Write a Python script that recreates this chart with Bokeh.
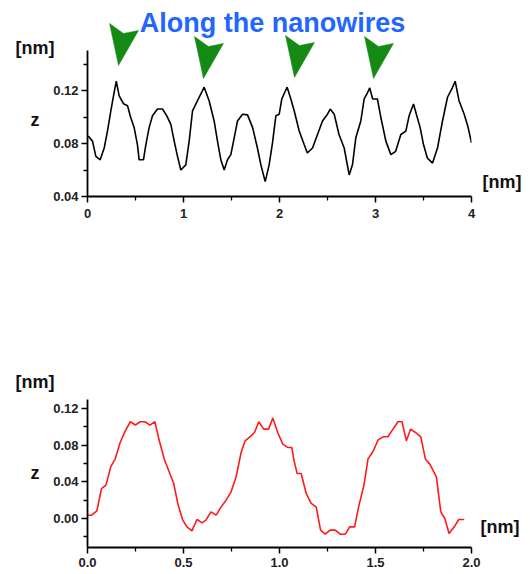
from bokeh.plotting import figure
from bokeh.models import FixedTicker, Label, PrintfTickFormatter, LinearAxis
from bokeh.layouts import column
from bokeh.embed import file_html
from bokeh.resources import INLINE

# ---------------- data ----------------
top_x = [0.007, 0.052, 0.087, 0.132, 0.174, 0.208, 0.243, 0.278, 0.30, 0.33, 0.375, 0.417, 0.45, 0.486,
         0.52, 0.538, 0.583, 0.608, 0.642, 0.677, 0.729, 0.781, 0.826, 0.868, 0.903, 0.9375, 0.972,
         1.024, 1.059, 1.094, 1.146, 1.19, 1.215, 1.267, 1.319, 1.354, 1.389, 1.424, 1.458, 1.493,
         1.528, 1.5625, 1.615, 1.667, 1.72, 1.77, 1.806, 1.851, 1.892, 1.927, 1.962, 1.997, 2.024,
         2.055, 2.08, 2.118, 2.153, 2.205, 2.257, 2.29, 2.344, 2.396, 2.448, 2.5, 2.528, 2.57, 2.62,
         2.674, 2.726, 2.76, 2.795, 2.847, 2.882, 2.915, 2.94, 2.97, 3.02, 3.056, 3.108, 3.16, 3.21,
         3.264, 3.316, 3.35, 3.396, 3.43, 3.465, 3.5, 3.54, 3.594, 3.646, 3.698, 3.75, 3.80, 3.83,
         3.87, 3.924, 3.965, 4.0]
top_z = [0.0856, 0.0818, 0.0703, 0.0677, 0.0766, 0.0894, 0.1047, 0.1187, 0.127, 0.116, 0.110, 0.1085,
         0.0996, 0.092, 0.0792, 0.0677, 0.0677, 0.0792, 0.092, 0.1009, 0.106, 0.106, 0.1009, 0.0945,
         0.0818, 0.0703, 0.060, 0.0639, 0.0818, 0.1047, 0.1123, 0.1187, 0.1225, 0.1123, 0.097, 0.0818,
         0.0677, 0.060, 0.0677, 0.0716, 0.0843, 0.097, 0.1021, 0.1016, 0.092, 0.0766, 0.0639, 0.0512,
         0.0639, 0.0805, 0.1009, 0.1021, 0.1136, 0.1187, 0.1225, 0.1136, 0.1047, 0.0894, 0.0792,
         0.0728, 0.0766, 0.0868, 0.097, 0.1021, 0.106, 0.1021, 0.0868, 0.0766, 0.0563, 0.0639, 0.0843,
         0.097, 0.1136, 0.118, 0.122, 0.1136, 0.1136, 0.0996, 0.0818, 0.0716, 0.0741, 0.0868, 0.0894,
         0.1009, 0.1098, 0.1009, 0.092, 0.0792, 0.069, 0.0652, 0.0766, 0.097, 0.1149, 0.122, 0.127,
         0.1123, 0.1021, 0.092, 0.0805]

bot_x = [0.003, 0.021, 0.049, 0.073, 0.096, 0.122, 0.144, 0.17, 0.197, 0.223, 0.249, 0.275, 0.299,
         0.325, 0.351, 0.374, 0.40, 0.449, 0.47, 0.496, 0.518, 0.544, 0.57, 0.597, 0.617, 0.643, 0.67,
         0.696, 0.722, 0.748, 0.774, 0.80, 0.821, 0.843, 0.87, 0.892, 0.918, 0.943, 0.965, 0.991,
         1.017, 1.043, 1.064, 1.075, 1.092, 1.113, 1.139, 1.165, 1.191, 1.214, 1.238, 1.264, 1.29,
         1.317, 1.343, 1.365, 1.391, 1.414, 1.44, 1.461, 1.487, 1.513, 1.539, 1.565, 1.591, 1.617,
         1.638, 1.661, 1.683, 1.708, 1.736, 1.76, 1.783, 1.817, 1.84, 1.861, 1.883, 1.91, 1.934, 1.962]
bot_z = [0.0036, 0.0036, 0.0084, 0.0327, 0.0364, 0.0568, 0.0647, 0.0829, 0.0956, 0.1055, 0.102,
         0.1055, 0.1055, 0.1018, 0.1055, 0.0847, 0.0647, 0.0382, 0.0164, -0.0018, -0.0091, -0.0135,
         -0.0011, -0.0047, -0.0018, 0.0073, 0.0036, 0.0127, 0.020, 0.0291, 0.0455, 0.072, 0.0847,
         0.0884, 0.0938, 0.1055, 0.0975, 0.0975, 0.1095, 0.0938, 0.0811, 0.0775, 0.0775, 0.0636,
         0.049, 0.049, 0.0273, 0.0164, 0.0127, -0.0127, -0.0171, -0.0127, -0.0127, -0.0171, -0.0171,
         -0.0091, -0.0091, 0.0145, 0.0364, 0.065, 0.0731, 0.0855, 0.0891, 0.0891, 0.0975, 0.1055,
         0.1055, 0.0847, 0.0975, 0.0938, 0.0891, 0.0647, 0.0593, 0.0455, 0.0073, 0.0, -0.0164,
         -0.0091, -0.0011, -0.0011]

top_xticks = [0, 1, 2, 3, 4]
top_yticks = [0.04, 0.08, 0.12]
bot_xticks = [0.0, 0.5, 1.0, 1.5, 2.0]
bot_yticks = [0.00, 0.04, 0.08, 0.12]

arrow_tip_x = [0.323, 1.208, 2.156, 2.979]
arrow_tip_z = [0.1389, 0.1291, 0.1298, 0.1291]

title_text = "Along the nanowires"
unit_text = "[nm]"
z_text = "z\u00a0\u00a0\u00a0"

# label positions (data units of each panel)
top_unit_y, top_z_y, top_xunit_y = 0.1517, 0.0981, 0.0506
bot_unit_y, bot_z_y, bot_xunit_y = 0.1494, 0.0491, -0.0098

FONT = "Liberation Sans"


def style_axes(p, xt, xminor, yt, yminor, xfmt, yfmt):
    p.grid.visible = False
    p.outline_line_color = None
    for ax in (p.xaxis[0], p.yaxis[0]):
        ax.axis_line_width = 1.8
        ax.axis_line_color = "black"
        ax.major_tick_line_width = 1.5
        ax.minor_tick_line_width = 1.3
        ax.major_tick_in = 0
        ax.major_tick_out = 6
        ax.minor_tick_in = 0
        ax.minor_tick_out = 4
        ax.major_label_text_font = FONT
        ax.major_label_text_font_style = "bold"
        ax.major_label_text_font_size = "13px"
        ax.major_label_text_color = "#222222"
        ax.major_label_standoff = 3
    p.xaxis[0].ticker = FixedTicker(ticks=xt, minor_ticks=xminor)
    p.yaxis[0].ticker = FixedTicker(ticks=yt, minor_ticks=yminor)
    p.xaxis[0].formatter = PrintfTickFormatter(format=xfmt)
    p.yaxis[0].formatter = PrintfTickFormatter(format=yfmt)


def text_axis(ticks, labels, standoff):
    ax = LinearAxis(ticker=FixedTicker(ticks=ticks, minor_ticks=[]),
                    major_label_overrides=dict(zip(ticks, labels)))
    ax.axis_line_color = None
    ax.major_tick_line_color = None
    ax.minor_tick_line_color = None
    ax.major_tick_in = 0
    ax.major_tick_out = 0
    ax.major_label_standoff = standoff
    ax.major_label_text_font = FONT
    ax.major_label_text_font_style = "bold"
    ax.major_label_text_font_size = "18px"
    ax.major_label_text_color = "#111111"
    return ax


# ---------------- top figure ----------------
T_FW, T_FH = 384, 196
t_xr = (0, 4)
t_yr = (0.04, 0.04 + 196 / 1325)
top = figure(frame_width=T_FW, frame_height=T_FH, x_range=t_xr, y_range=t_yr,
             min_border_left=87, min_border_right=57, min_border_top=0, min_border_bottom=104,
             output_backend="svg", toolbar_location=None, background_fill_color="white")
style_axes(top, top_xticks, [0.5, 1.5, 2.5, 3.5], top_yticks, [0.06, 0.10, 0.14], "%.0f", "%.2f")
top.yaxis[0].bounds = (0.04, 0.15)
top.xaxis[0].major_label_standoff = 6
top.add_layout(text_axis([top_unit_y, top_z_y], [unit_text, z_text], -4), "left")
top.add_layout(text_axis([top_xunit_y], [unit_text], 11), "right")
top.line(top_x, top_z, line_color="black", line_width=1.6)

sx = T_FW / (t_xr[1] - t_xr[0])
sy = T_FH / (t_yr[1] - t_yr[0])
shape_px = [(0, 0), (-9, -42), (5, -32), (20, -35)]
axs, ays = [], []
for tx, tz in zip(arrow_tip_x, arrow_tip_z):
    axs.append([tx + dx / sx for dx, dy in shape_px])
    ays.append([tz - dy / sy for dx, dy in shape_px])
top.patches(axs, ays, fill_color="#148a14", line_color="#148a14", line_width=0.5)

top.add_layout(Label(x=1.927, y=0.04 + (196 - 22) / sy, text=title_text, text_font=FONT,
                     text_font_style="bold", text_font_size="27px", text_color="#2166ff",
                     text_align="center", text_baseline="middle"))

# ---------------- bottom figure ----------------
B_FW, B_FH = 384, 247
b_xr = (0, 2)
b_yr = (-(547 - 518) / 917, (518 - 300) / 917)
bot = figure(frame_width=B_FW, frame_height=B_FH, x_range=b_xr, y_range=b_yr,
             min_border_left=83, min_border_right=57, min_border_top=0, min_border_bottom=20,
             output_backend="svg", toolbar_location=None, background_fill_color="white")
style_axes(bot, bot_xticks, [0.25, 0.75, 1.25, 1.75], bot_yticks, [-0.02, 0.02, 0.06, 0.10],
           "%.1f", "%.2f")
bot.yaxis[0].bounds = (b_yr[0], 0.1298)
bot.xaxis[0].major_label_standoff = 4
bot.add_layout(text_axis([bot_unit_y, bot_z_y], [unit_text, z_text], -4), "left")
bot.add_layout(text_axis([bot_xunit_y], [unit_text], 9), "right")
bot.line(bot_x, bot_z, line_color="#ff1a1a", line_width=1.6)

layout = column(top, bot, spacing=0)
open("out.html", "w").write(file_html(layout, INLINE))
